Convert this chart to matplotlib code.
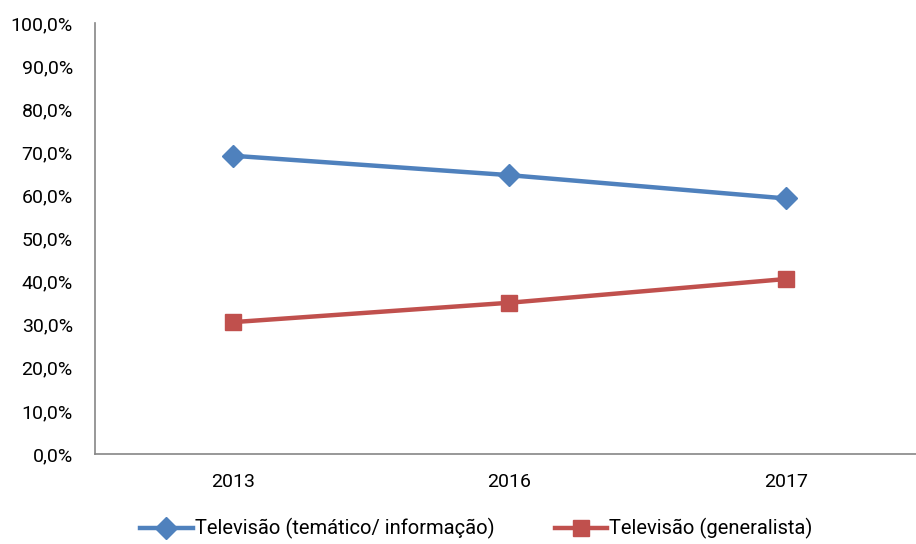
import matplotlib
matplotlib.use("Agg")
import matplotlib.pyplot as plt
from matplotlib.ticker import FuncFormatter

plt.rcParams['font.family'] = ['Roboto', 'DejaVu Sans']

years = ["2013", "2016", "2017"]
tematico = [69.2, 64.7, 59.3]
generalista = [30.6, 35.1, 40.6]
labels = ["Televisão (temático/ informação)", "Televisão (generalista)"]

fig = plt.figure(figsize=(9.16, 5.44), dpi=100)
ax = fig.add_axes([0.1037, 0.1654, 0.905, 0.7923])

x = list(range(len(years)))
ax.plot(x, tematico, color="#4F81BD", lw=3.2, marker="D", ms=11, label=labels[0])
ax.plot(x, generalista, color="#C0504D", lw=3.2, marker="s", ms=12, label=labels[1])

ax.set_xlim(-0.5, 2.5)
ax.set_ylim(0, 100)
ax.set_yticks(range(0, 101, 10))
ax.yaxis.set_major_formatter(FuncFormatter(lambda v, p: f"{v:.1f}%".replace(".", ",")))
ax.set_xticks(x)
ax.set_xticklabels(years)

for s in ["top", "right"]:
    ax.spines[s].set_visible(False)
for s in ["left", "bottom"]:
    ax.spines[s].set_color("#868686")
    ax.spines[s].set_linewidth(1.2)
ax.tick_params(axis="both", length=0, labelsize=14, colors="#000000")
ax.tick_params(axis="y", pad=16)
ax.tick_params(axis="x", pad=14)

fig.legend(loc="lower center", bbox_to_anchor=(0.52, -0.025), ncol=2, frameon=False,
           fontsize=14.5, handlelength=2.6, columnspacing=3.0, handletextpad=0.1)

fig.savefig("out.png", dpi=100)
